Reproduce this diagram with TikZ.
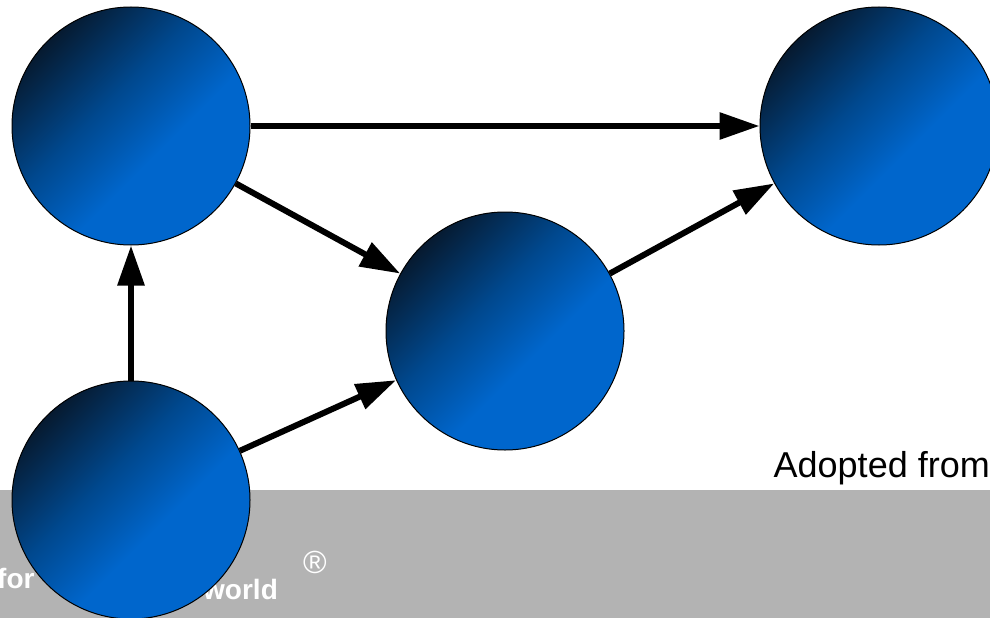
\documentclass[tikz,border=0pt]{standalone}
\usepackage{fontspec}
\setmainfont{Liberation Sans}
\usetikzlibrary{arrows.meta}

\definecolor{balldark}{HTML}{061A30}
\definecolor{ballmid}{HTML}{00488E}
\definecolor{ballbright}{HTML}{0066CC}
\definecolor{bandgray}{HTML}{B3B3B3}

% diagonal shading for the spheres: dark upper-left, bright lower-right
\pgfdeclareverticalshading{ballshade}{100bp}{%
  color(0bp)=(ballbright); color(42bp)=(ballbright);
  color(57bp)=(ballmid); color(75bp)=(balldark); color(100bp)=(balldark)}

\tikzset{
  ball/.style={circle, draw=black, line width=1pt, shading=ballshade,
    shading angle=45, minimum size=238pt, inner sep=0pt},
  link/.style={line width=6pt, -{Triangle[length=40pt,width=26pt]}},
  bandtext/.style={text=white, font=\bfseries\fontsize{28pt}{32pt}\selectfont,
    inner sep=0pt, anchor=base west}
}

\begin{document}
\begin{tikzpicture}[x=1pt, y=-1pt]
  \path[use as bounding box, clip] (0,0) rectangle (990,618);
  \fill[white] (0,0) rectangle (990,618);

  % footer band and its lettering
  \fill[bandgray] (0,490) rectangle (990,618);
  \node[bandtext] (for) at (-3,588) {for};
  \node[bandtext] (world) at (203,599) {world};
  \node[text=white, font=\fontsize{32pt}{34pt}\selectfont, inner sep=0pt]
    (reg) at (315,562) {®};

  \node[anchor=base east, inner sep=0pt, font=\fontsize{36pt}{40pt}\selectfont]
    (src) at (990,477) {Adopted from};

  % the four spheres
  \node[ball] (a) at (131,126) {};
  \node[ball] (b) at (505,331) {};
  \node[ball] (c) at (879,126) {};
  \node[ball] (d) at (131,500) {};

  % directed links
  \draw[link] (a) -- (c);
  \draw[link] (a) -- (b);
  \draw[link] (d) -- (a);
  \draw[link] (d) -- (b);
  \draw[link] (b) -- (c);
\end{tikzpicture}
\end{document}
